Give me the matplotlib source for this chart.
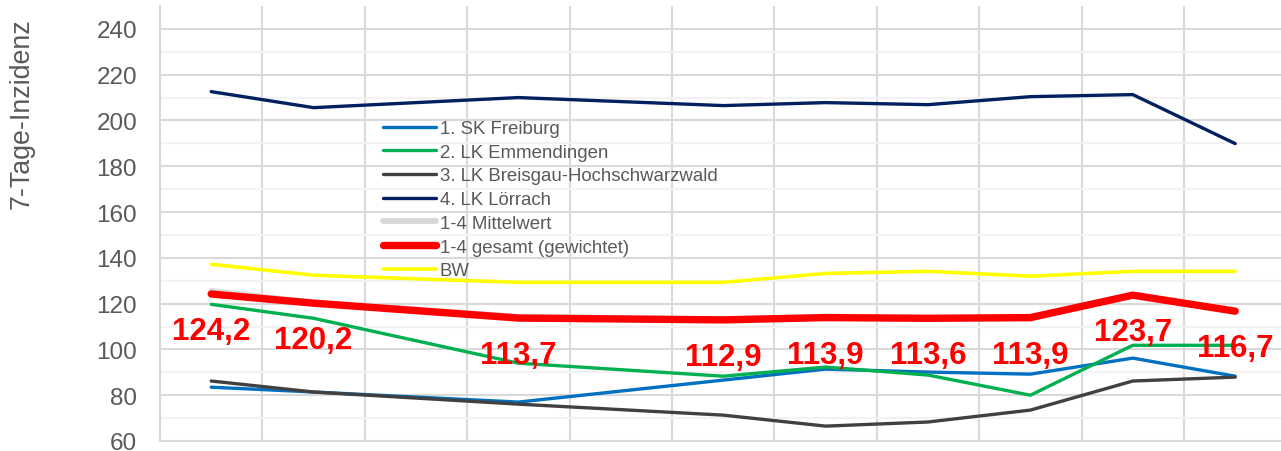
import numpy as np
import matplotlib
matplotlib.use("Agg")
import matplotlib.pyplot as plt

## Werte (11 Kategorien, Luecken bei 2 und 4)
x_pos = [0, 1, 3, 5, 6, 7, 8, 9, 10]

freiburg = [83.5, 81.4, 77.0, 86.6, 91.4, 90.1, 89.2, 96.2, 88.3]
emmendingen = [119.7, 113.6, 94.0, 88.3, 92.3, 88.8, 80.0, 101.8, 101.8]
breisgau = [86.2, 81.4, 76.1, 71.3, 66.5, 68.3, 73.5, 86.2, 87.9]
loerrach = [212.6, 205.6, 210.0, 206.5, 207.8, 206.9, 210.4, 211.3, 189.9]
mittelwert = [125.5, 120.5, 114.3, 113.1, 114.3, 113.7, 113.4, 123.9, 117.0]
gesamt = [124.2, 120.2, 113.7, 112.9, 113.9, 113.6, 113.9, 123.7, 116.7]
bw = [137.2, 132.4, 129.3, 129.3, 133.2, 134.1, 132.0, 134.1, 134.1]

n_cat = 11
grey_txt = "#595959"
grid_col = "#D9D9D9"

plt.rcParams['font.family'] = ['Liberation Sans', 'DejaVu Sans']

fig = plt.figure(figsize=(12.81, 4.52), dpi=100)
W, H = 1281.0, 452.0
ax = fig.add_axes([160 / W, 10 / H, 1126.4 / W, 435 / H])

ax.plot(x_pos, freiburg, color="#0070C0", lw=2.4, label="1. SK Freiburg", solid_capstyle="round")
ax.plot(x_pos, emmendingen, color="#00B050", lw=2.4, label="2. LK Emmendingen", solid_capstyle="round")
ax.plot(x_pos, breisgau, color="#404040", lw=2.4, label="3. LK Breisgau-Hochschwarzwald", solid_capstyle="round")
ax.plot(x_pos, loerrach, color="#002060", lw=2.4, label="4. LK Lörrach", solid_capstyle="round")
ax.plot(x_pos, mittelwert, color="#D9D9D9", lw=4.3, label="1-4 Mittelwert", solid_capstyle="round")
ax.plot(x_pos, gesamt, color="#FF0000", lw=5.3, label="1-4 gesamt (gewichtet)", solid_capstyle="round")
ax.plot(x_pos, bw, color="#FFFF00", lw=2.6, label="BW", solid_capstyle="round")

# Datenbeschriftungen unter der roten Linie
for xp, v in zip(x_pos, gesamt):
    ax.annotate(("%.1f" % v).replace(".", ","), (xp, v), xytext=(0, -37),
                textcoords="offset pixels", ha="center", va="center",
                color="#FF0000", fontsize=22.5, fontweight="bold", zorder=10)

ax.set_xlim(-0.5, n_cat - 0.5)
ax.set_ylim(60, 250)
ax.set_yticks(np.arange(60, 241, 20))
ax.set_yticks(np.arange(70, 250, 10), minor=True)
ax.set_xticks(np.arange(0.5, n_cat - 0.5, 1))
ax.set_xticklabels([])
ax.tick_params(axis="both", which="both", length=0)
ax.tick_params(axis="y", labelsize=17.5, labelcolor=grey_txt, pad=16.5)

ax.grid(True, which="major", axis="both", color=grid_col, lw=1.5)
ax.grid(True, which="minor", axis="y", color="#F2F2F2", lw=1.5)
ax.set_axisbelow(True)
for s in ["top", "right"]:
    ax.spines[s].set_visible(False)
for s in ["left", "bottom"]:
    ax.spines[s].set_color(grid_col)
    ax.spines[s].set_linewidth(1.5)

fig.text(22 / W, 1 - 114 / H, "7-Tage-Inzidenz", rotation=90, ha="center",
         va="center", fontsize=19.3, color=grey_txt)

leg = ax.legend(loc="upper left", bbox_to_anchor=(383 / W, 1 - 121 / H),
                bbox_transform=fig.transFigure, frameon=False, fontsize=13.4,
                handlelength=2.85, handletextpad=0.2, labelspacing=0.36,
                borderpad=0, borderaxespad=0)
for t in leg.get_texts():
    t.set_color(grey_txt)

fig.savefig("out.png", dpi=100)
